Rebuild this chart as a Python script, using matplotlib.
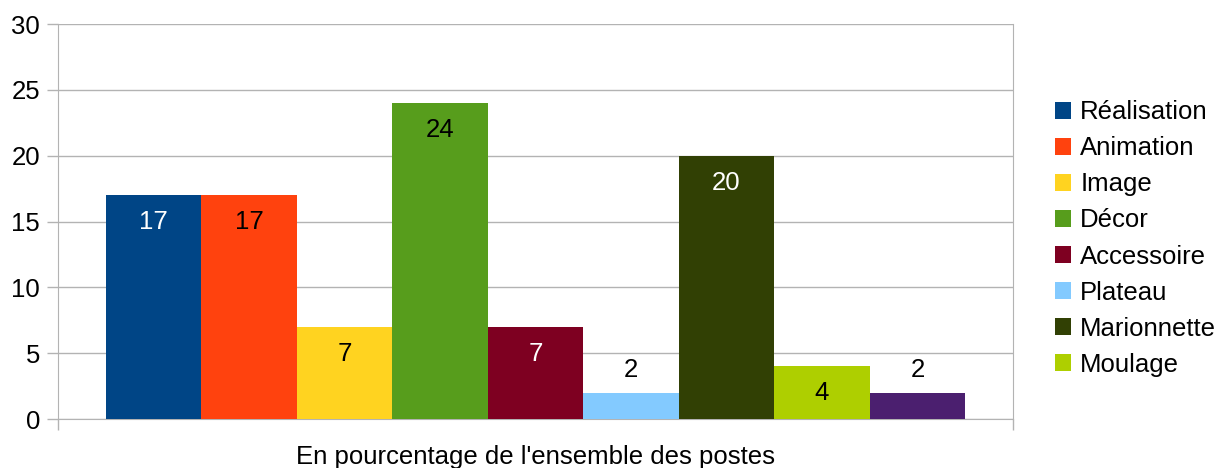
import matplotlib.pyplot as plt

# Données
postes = ["Réalisation", "Animation", "Image", "Décor", "Accessoire",
          "Plateau", "Marionnette", "Moulage", None]
valeurs = [17, 17, 7, 24, 7, 2, 20, 4, 2]
couleurs = ["#004586", "#ff420e", "#ffd320", "#579d1c", "#7e0021",
            "#83caff", "#314004", "#aecf00", "#4b1f6f"]
texte_blanc = [True, False, False, False, True, False, True, False, False]

plt.rcParams['font.family'] = ['Liberation Sans', 'DejaVu Sans']
TAILLE = 18.5

fig = plt.figure(figsize=(12.16, 4.68), dpi=100)
ax = fig.add_axes([0.0477, 0.1047, 0.7853, 0.844])

gris = "#b3b3b3"
for i, (nom, v, c) in enumerate(zip(postes, valeurs, couleurs)):
    ax.bar(i, v, width=1.0, color=c, label=nom if nom else "_nolegend_", zorder=3)
    if v > 3:
        ax.annotate(str(v), (i, v), xytext=(0, -19.5), textcoords="offset points",
                    ha="center", va="center", fontsize=TAILLE,
                    color="white" if texte_blanc[i] else "black", zorder=4)
    else:
        ax.annotate(str(v), (i, v), xytext=(0, 16.5), textcoords="offset points",
                    ha="center", va="center", fontsize=TAILLE, color="black", zorder=4)

ax.set_xlim(-1, 9)
ax.set_ylim(0, 30)
ax.set_yticks(range(0, 31, 5))
ax.set_xticks([-1, 9])
ax.set_xticklabels(["", ""])
ax.tick_params(axis="both", direction="out", length=8, color=gris, width=1,
               labelsize=TAILLE)
ax.tick_params(axis="y", pad=5)
ax.yaxis.grid(True, color=gris, linewidth=1, zorder=0)
ax.spines["top"].set_visible(False)
for s in ["left", "right", "bottom"]:
    ax.spines[s].set_color(gris)
ax.set_xlabel("En pourcentage de l'ensemble des postes", fontsize=TAILLE, labelpad=7)

leg = ax.legend(loc="center left", bbox_to_anchor=(1.031, 0.457), frameon=False,
                fontsize=TAILLE, handlelength=0.62, handleheight=0.62,
                handletextpad=0.35, labelspacing=0.47, borderpad=0)

fig.savefig("out.png", dpi=100)
